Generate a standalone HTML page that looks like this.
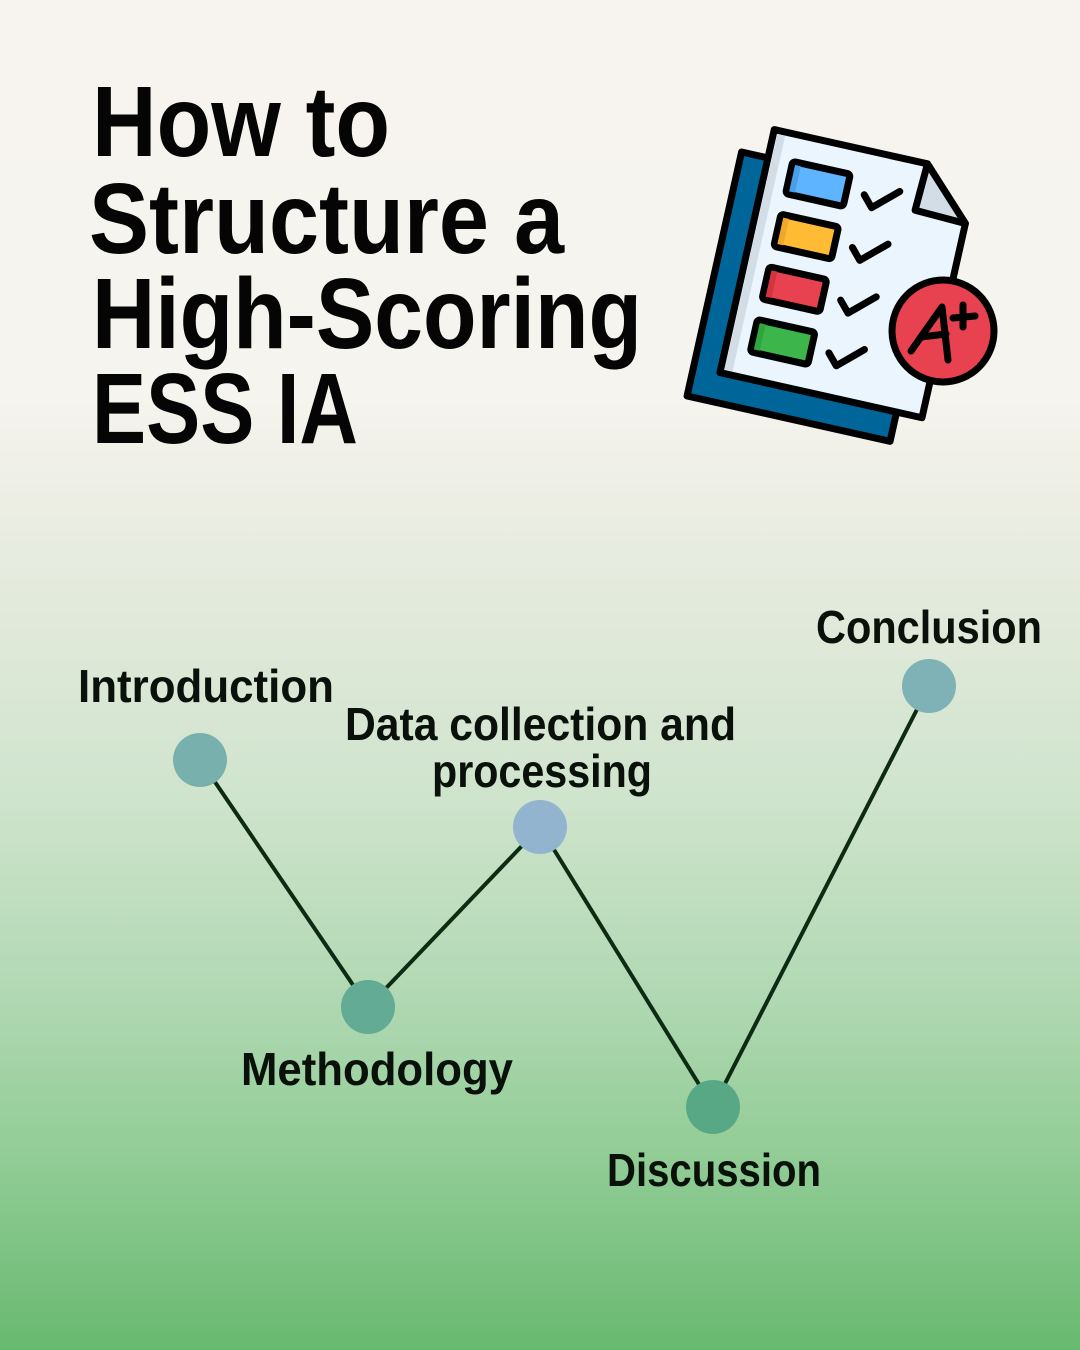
<!DOCTYPE html>
<html>
<head>
<meta charset="utf-8">
<style>
  html, body { margin: 0; padding: 0; }
  body { width: 1080px; height: 1350px; overflow: hidden; }
  svg { display: block; }
  .t { font-family: "Liberation Sans", "DejaVu Sans", sans-serif; font-weight: bold; fill: #050505; }
  .l { font-family: "Liberation Sans", "DejaVu Sans", sans-serif; font-weight: bold; fill: #0a110b; font-size: 46px; }
</style>
</head>
<body>
<svg width="1080" height="1350" viewBox="0 0 1080 1350" xmlns="http://www.w3.org/2000/svg">
  <defs>
    <linearGradient id="bg" x1="0" y1="0" x2="0" y2="1">
      <stop offset="0" stop-color="#f7f4ef"/>
      <stop offset="0.29" stop-color="#f6f4ee"/>
      <stop offset="0.37" stop-color="#eceee4"/>
      <stop offset="0.45" stop-color="#e2eadb"/>
      <stop offset="0.59" stop-color="#cfe4cd"/>
      <stop offset="0.74" stop-color="#b0d8b2"/>
      <stop offset="0.85" stop-color="#93cd97"/>
      <stop offset="1" stop-color="#68b970"/>
    </linearGradient>
  </defs>
  <rect x="0" y="0" width="1080" height="1350" fill="url(#bg)"/>

  <!-- Title -->
  <text class="t" x="92" y="156" font-size="100" textLength="298" lengthAdjust="spacingAndGlyphs">How to</text>
  <text class="t" x="89" y="253" font-size="100" textLength="475" lengthAdjust="spacingAndGlyphs">Structure a</text>
  <text class="t" x="92" y="348" font-size="100" textLength="550" lengthAdjust="spacingAndGlyphs">High-Scoring</text>
  <text class="t" x="92" y="443" font-size="100" textLength="266" lengthAdjust="spacingAndGlyphs">ESS IA</text>

  <!-- Icon -->
  <g transform="translate(772,126) rotate(12.6)" stroke="#000" stroke-width="7" stroke-linejoin="round" stroke-linecap="round">
    <rect x="-24" y="32" width="208" height="250" fill="#006699"/>
    <polygon points="3,3 160,3 210,53 210,252 3,252" fill="#eaf5fd"/>
    <rect x="7" y="7" width="8" height="241" fill="#d3dde6" stroke="none"/>
    <polygon points="160,3 210,53 158,51" fill="#d3dde6"/>
    <!-- bars -->
    <rect x="28" y="30" width="59" height="33" rx="3" fill="#5fb4ff"/>
    <rect x="31" y="33" width="6" height="27" fill="#4a9fe8" stroke="none"/>
    <rect x="28" y="84" width="59" height="33" rx="3" fill="#ffbb33"/>
    <rect x="31" y="87" width="6" height="27" fill="#f0a828" stroke="none"/>
    <rect x="28" y="138" width="59" height="33" rx="3" fill="#e8414f"/>
    <rect x="31" y="141" width="6" height="27" fill="#d33442" stroke="none"/>
    <rect x="28" y="192" width="59" height="33" rx="3" fill="#3cb54a"/>
    <rect x="31" y="195" width="6" height="27" fill="#2fa53e" stroke="none"/>
    <!-- checks -->
    <polyline points="105,47 115,58 139,36" fill="none"/>
    <polyline points="105,101 115,112 139,90" fill="none"/>
    <polyline points="105,155 115,166 139,144" fill="none"/>
    <polyline points="105,209 115,220 139,198" fill="none"/>
  </g>
  <g stroke="#000" stroke-width="7" stroke-linejoin="round" stroke-linecap="round">
    <circle cx="943" cy="331" r="51" fill="#e8414f"/>
    <polyline points="911,351 942,307 948,360" fill="none"/>
    <line x1="921" y1="337" x2="946" y2="334"/>
    <line x1="963" y1="305" x2="963" y2="327"/>
    <line x1="953" y1="318" x2="975" y2="316"/>
  </g>

  <!-- Connectors -->
  <g stroke="#0d2b12" stroke-width="4" fill="none" stroke-linecap="round">
    <line x1="200" y1="760" x2="368" y2="1007"/>
    <line x1="368" y1="1007" x2="540" y2="827"/>
    <line x1="540" y1="827" x2="713" y2="1107"/>
    <line x1="713" y1="1107" x2="929" y2="686"/>
  </g>

  <!-- Nodes -->
  <circle cx="200" cy="760" r="27" fill="#78b0ae"/>
  <circle cx="368" cy="1007" r="27" fill="#63ab94"/>
  <circle cx="540" cy="827" r="27" fill="#92b4ce"/>
  <circle cx="713" cy="1107" r="27" fill="#58a886"/>
  <circle cx="929" cy="686" r="27" fill="#7eb2b7"/>

  <!-- Labels -->
  <text class="l" x="78" y="702" textLength="256" lengthAdjust="spacingAndGlyphs">Introduction</text>
  <text class="l" x="345" y="740" textLength="391" lengthAdjust="spacingAndGlyphs">Data collection and</text>
  <text class="l" x="432" y="787" textLength="220" lengthAdjust="spacingAndGlyphs">processing</text>
  <text class="l" x="241" y="1085" textLength="272" lengthAdjust="spacingAndGlyphs">Methodology</text>
  <text class="l" x="607" y="1186" textLength="214" lengthAdjust="spacingAndGlyphs">Discussion</text>
  <text class="l" x="816" y="643" textLength="226" lengthAdjust="spacingAndGlyphs">Conclusion</text>
</svg>
</body>
</html>
